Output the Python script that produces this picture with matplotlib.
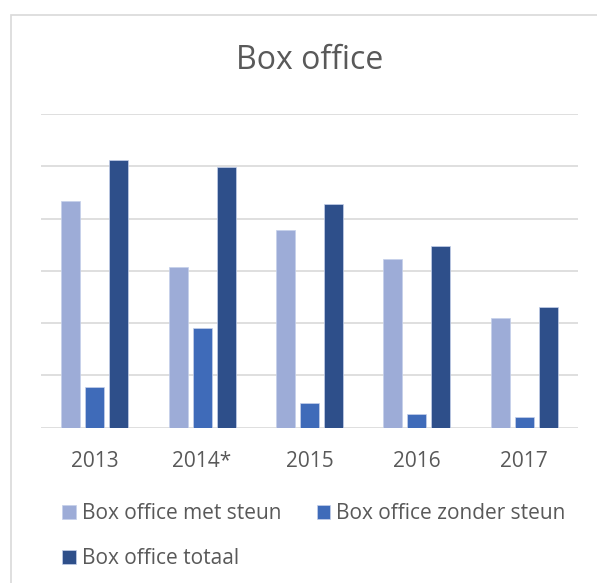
import numpy as np
import matplotlib.pyplot as plt
from matplotlib.patches import Rectangle

plt.rcParams['font.family'] = ['Open Sans', 'DejaVu Sans']

years = ['2013', '2014*', '2015', '2016', '2017']
met_steun = [4.34, 3.07, 3.79, 3.22, 2.10]
zonder_steun = [0.78, 1.91, 0.48, 0.26, 0.21]
totaal = [5.12, 4.99, 4.27, 3.48, 2.31]

series = [('Box office met steun', met_steun, '#9dacd7'),
          ('Box office zonder steun', zonder_steun, '#3f6bb9'),
          ('Box office totaal', totaal, '#2e4f8a')]

fig = plt.figure(figsize=(5.97, 5.83), dpi=100)
# chart frame (cut off on the right and bottom)
fig.patches.append(Rectangle((11/597, -0.05), 1.0, 1 - 15/583 + 0.05,
                             transform=fig.transFigure, fill=False,
                             edgecolor='#d9d9d9', lw=1.2))

ax = fig.add_axes([41/597, 1 - 427.7/583, 537/597, 313.7/583])
x = np.arange(len(years))
w = 0.177
step = 0.223
handles = []
for i, (name, vals, col) in enumerate(series):
    b = ax.bar(x + (i - 1)*step, vals, width=w, color=col,
               edgecolor='#c5d0ea', linewidth=0.5, label=name, zorder=3)
    handles.append(b)

ax.set_xlim(-0.5, len(years) - 0.5)
ax.set_ylim(0, 6)
ax.set_yticks(np.arange(0, 7, 1))
ax.yaxis.grid(True, color='#d9d9d9', lw=1.2, zorder=0)
ax.tick_params(axis='y', left=False, labelleft=False)
ax.tick_params(axis='x', bottom=False, labelsize=15, labelcolor='#595959', pad=13)
ax.set_xticks(x)
ax.set_xticklabels(years)
for s in ax.spines.values():
    s.set_visible(False)

fig.text(309.5/597, 1 - 69/583, 'Box office', ha='center', va='baseline',
         fontsize=23, color='#595959')

# legend fills column-wise, so reorder to get row-wise layout
leg_handles = [handles[0], handles[2], handles[1]]
leg = fig.legend(handles=leg_handles, loc='upper left',
                 bbox_to_anchor=(62/597, 1 - 503/583), ncol=2,
                 frameon=False, fontsize=15, labelcolor='#595959',
                 handlelength=0.65, handleheight=0.65, handletextpad=0.3,
                 columnspacing=1.7, labelspacing=1.15, borderaxespad=0,
                 borderpad=0)

fig.savefig('out.png', dpi=100)
